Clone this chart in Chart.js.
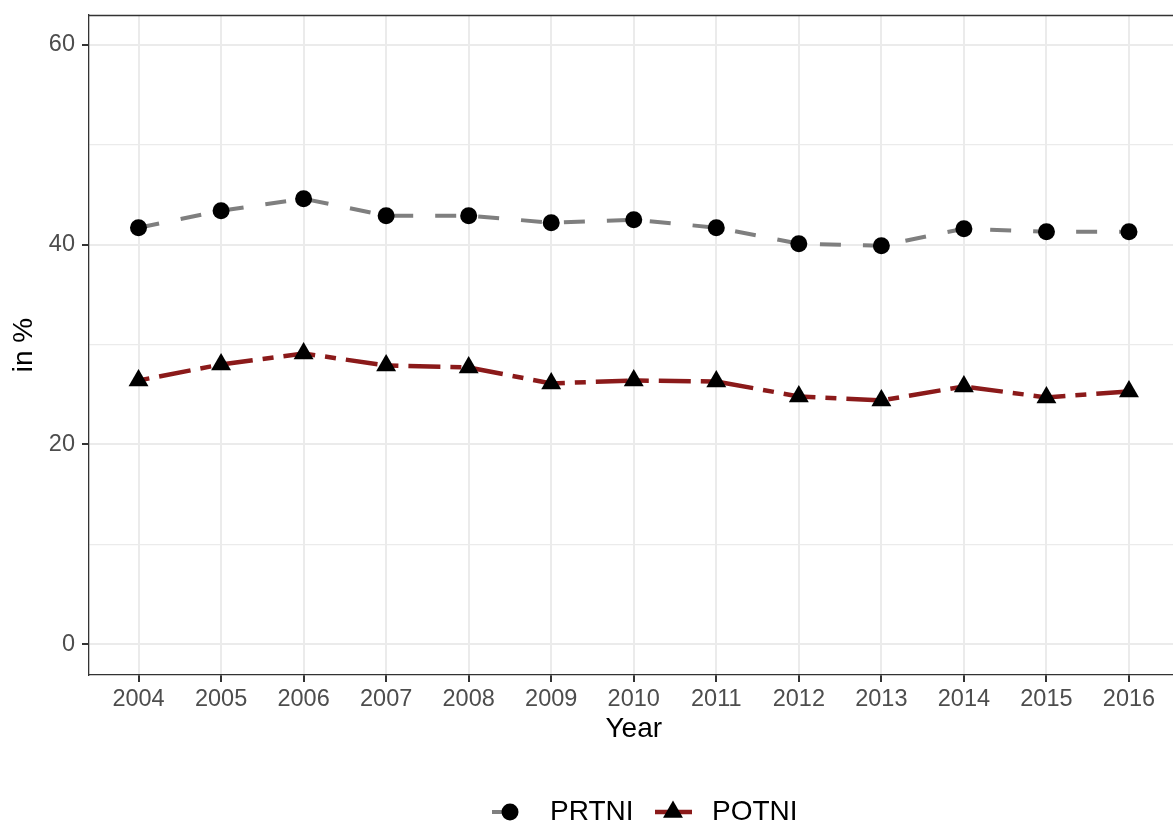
<!DOCTYPE html>
<html>
<head>
<meta charset="utf-8">
<script src="https://cdn.jsdelivr.net/npm/chart.js@4.4.0/dist/chart.umd.min.js"></script>
<style>
  html, body { margin: 0; padding: 0; background: #fff; overflow: hidden; width: 1173px; height: 829px; }
  canvas { display: block; }
</style>
</head>
<body>
<canvas id="chart" width="1190" height="829"></canvas>
<script>
// Data
const years = [2004, 2005, 2006, 2007, 2008, 2009, 2010, 2011, 2012, 2013, 2014, 2015, 2016];
const prtni = [41.7, 43.4, 44.6, 42.9, 42.9, 42.2, 42.5, 41.7, 40.1, 39.9, 41.6, 41.3, 41.3];
const potni = [26.4, 28.0, 29.1, 27.9, 27.7, 26.1, 26.4, 26.3, 24.8, 24.4, 25.8, 24.7, 25.3];
const yTickValues = [0, 10, 20, 30, 40, 50, 60];
const seriesNames = ['PRTNI', 'POTNI'];

const FONT = '"Liberation Sans", Arial, sans-serif';
const GRAY = '#7f7f7f';
const RED = '#8b1a1a';
const AXIS = '#333333';

const toPoints = vals => years.map((yr, i) => ({ x: yr, y: vals[i] }));

// panel top border + bottom legend (line + marker keys)
const extras = {
    id: 'extras',
    afterDraw(chart) {
        const { ctx, chartArea } = chart;
        ctx.save();
        ctx.strokeStyle = AXIS;
        ctx.lineWidth = 1.3;
        ctx.beginPath();
        ctx.moveTo(chartArea.left, chartArea.top + 0.5);
        ctx.lineTo(chartArea.right, chartArea.top + 0.5);
        ctx.stroke();

        const ly = 812;
        // PRTNI key
        ctx.strokeStyle = GRAY;
        ctx.lineWidth = 4;
        ctx.setLineDash([21, 22]);
        ctx.beginPath();
        ctx.moveTo(492, ly);
        ctx.lineTo(527, ly);
        ctx.stroke();
        ctx.setLineDash([]);
        ctx.fillStyle = '#000';
        ctx.beginPath();
        ctx.arc(510, ly, 8.5, 0, Math.PI * 2);
        ctx.fill();
        // POTNI key
        ctx.strokeStyle = RED;
        ctx.lineWidth = 4.5;
        ctx.beginPath();
        ctx.moveTo(655, ly);
        ctx.lineTo(692, ly);
        ctx.stroke();
        const r = 11.5;
        ctx.beginPath();
        ctx.moveTo(673, ly - r);
        ctx.lineTo(673 + r * Math.sqrt(3) / 2, ly + r / 2);
        ctx.lineTo(673 - r * Math.sqrt(3) / 2, ly + r / 2);
        ctx.closePath();
        ctx.fill();

        ctx.font = '28px ' + FONT;
        ctx.textBaseline = 'middle';
        ctx.textAlign = 'left';
        ctx.fillStyle = '#000';
        ctx.fillText(seriesNames[0], 550, ly);
        ctx.fillText(seriesNames[1], 712, ly);
        ctx.restore();
    }
};

new Chart(document.getElementById('chart').getContext('2d'), {
    type: 'line',
    data: {
        datasets: [{
            label: seriesNames[0],
            data: toPoints(prtni),
            borderColor: GRAY,
            borderWidth: 4,
            borderDash: [21, 22],
            borderCapStyle: 'butt',
            pointStyle: 'circle',
            pointRadius: 8.5,
            pointBackgroundColor: '#000',
            pointBorderColor: '#000',
            pointBorderWidth: 0,
            tension: 0
        }, {
            label: seriesNames[1],
            data: toPoints(potni),
            borderColor: RED,
            borderWidth: 4.5,
            borderDash: [11, 10, 32, 10],
            borderCapStyle: 'butt',
            pointStyle: 'triangle',
            pointRadius: 11.5,
            pointBackgroundColor: '#000',
            pointBorderColor: '#000',
            pointBorderWidth: 0,
            tension: 0
        }]
    },
    options: {
        responsive: false,
        animation: false,
        devicePixelRatio: 1,
        layout: { padding: { top: 15, right: 7, left: 0, bottom: 0 } },
        plugins: {
            legend: { display: false },
            tooltip: { enabled: false }
        },
        scales: {
            x: {
                type: 'linear',
                min: 2003.4,
                max: 2016.6,
                afterBuildTicks: scale => { scale.ticks = years.map(v => ({ value: v })); },
                afterFit: scale => { scale.height = 154; scale.paddingLeft = 0; scale.paddingRight = 0; },
                grid: {
                    color: '#ebebeb',
                    lineWidth: 2,
                    tickColor: AXIS,
                    tickLength: 7,
                    tickWidth: 2
                },
                border: { color: AXIS, width: 1.3 },
                ticks: {
                    color: '#4d4d4d',
                    font: { family: FONT, size: 23.5 },
                    padding: 3,
                    maxRotation: 0,
                    autoSkip: false,
                    callback: v => String(v)
                },
                title: {
                    display: true,
                    text: 'Year',
                    color: '#000',
                    font: { family: FONT, size: 28 },
                    padding: { top: 0, bottom: 83 }
                }
            },
            y: {
                min: -3.1,
                max: 63.0,
                afterBuildTicks: scale => { scale.ticks = yTickValues.map(v => ({ value: v })); },
                afterFit: scale => { scale.width = 89; scale.paddingTop = 0; scale.paddingBottom = 0; },
                grid: {
                    color: '#ebebeb',
                    lineWidth: ctx => (ctx.tick && ctx.tick.value % 20 === 0) ? 2 : 1.2,
                    tickColor: ctx => (ctx.tick && ctx.tick.value % 20 === 0) ? AXIS : 'rgba(0,0,0,0)',
                    tickLength: 7,
                    tickWidth: 2
                },
                border: { color: AXIS, width: 1.3 },
                ticks: {
                    color: '#4d4d4d',
                    font: { family: FONT, size: 23.5 },
                    padding: 7,
                    callback: v => (v % 20 === 0 ? String(v) : '')
                },
                title: {
                    display: true,
                    text: 'in %',
                    color: '#000',
                    font: { family: FONT, size: 28 },
                    padding: { top: 7, bottom: 0 }
                }
            }
        }
    },
    plugins: [extras]
});
</script>
</body>
</html>
